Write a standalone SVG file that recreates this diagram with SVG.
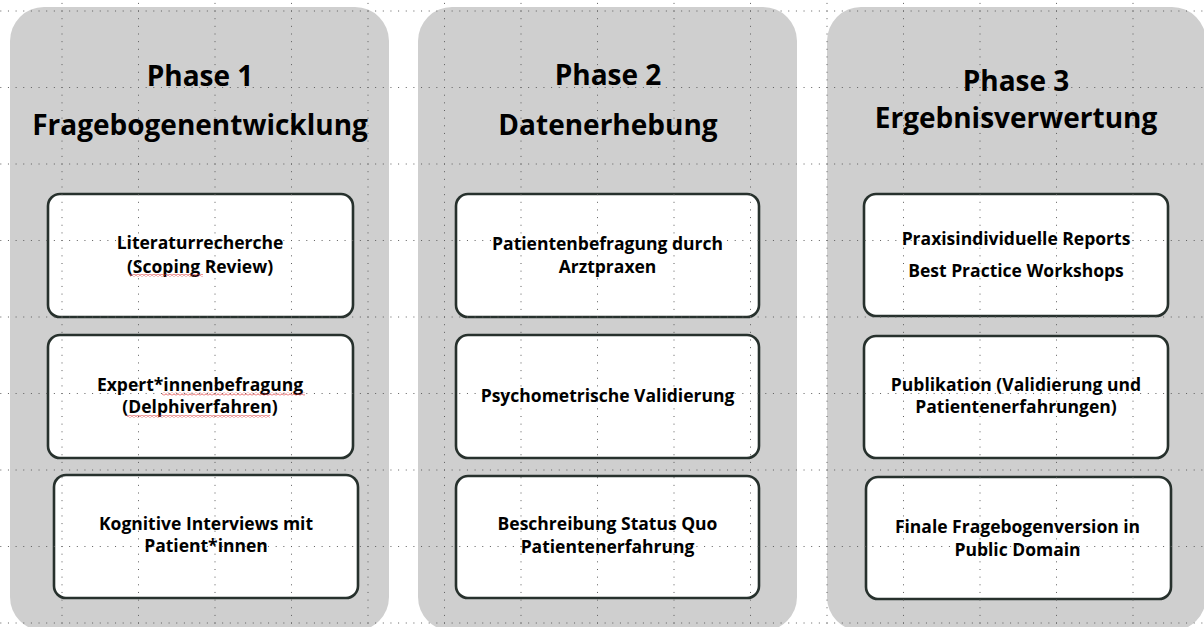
<svg xmlns="http://www.w3.org/2000/svg" width="1204" height="627" viewBox="0 0 1204 627">
<style>
.panel{fill:#cfcfcf;stroke:none}
.box{fill:#ffffff;stroke:#27312d;stroke-width:2.6}
.h{font-family:"Open Sans","Noto Sans","Liberation Sans",sans-serif;font-weight:700;font-size:28px;fill:#000;text-anchor:middle}
.t{font-family:"Open Sans","Noto Sans","Liberation Sans",sans-serif;font-weight:700;font-size:17.5px;fill:#000;text-anchor:middle}
.gv{stroke:#5e5e5e;stroke-width:1;stroke-dasharray:1 6.65}
.sq{fill:url(#squig)}
</style>
<defs>
<pattern id="squig" x="0" y="0" width="4" height="3" patternUnits="userSpaceOnUse">
<path d="M0 2.5 L2 0.7 L4 2.5" fill="none" stroke="#e03030" stroke-width="0.8"/>
</pattern>
</defs>
<rect width="1204" height="627" fill="#ffffff"/>
<g id="phase1">
<rect class="panel" x="10" y="7" width="379" height="624" rx="34"/>
</g>
<g id="phase2">
<rect class="panel" x="418" y="7" width="379" height="624" rx="34"/>
</g>
<g id="phase3">
<rect class="panel" x="827" y="7" width="379" height="624" rx="34"/>
</g>
<g id="p1b1"><rect class="box" x="48" y="194" width="305" height="123" rx="12"/></g>
<g id="p1b2"><rect class="box" x="48" y="335" width="305" height="123" rx="12"/></g>
<g id="p1b3"><rect class="box" x="54" y="475" width="304" height="123" rx="12"/></g>
<g id="p2b1"><rect class="box" x="456" y="194" width="303" height="123" rx="12"/></g>
<g id="p2b2"><rect class="box" x="456" y="335" width="303" height="123" rx="12"/></g>
<g id="p2b3"><rect class="box" x="456" y="476" width="303" height="122" rx="12"/></g>
<g id="p3b1"><rect class="box" x="864" y="194" width="304" height="122" rx="12"/></g>
<g id="p3b2"><rect class="box" x="864" y="336" width="304" height="122" rx="12"/></g>
<g id="p3b3"><rect class="box" x="866" y="477" width="305" height="122" rx="12"/></g>
<g id="grid">
<line class="gv" x1="62" y1="2.9" x2="62" y2="627"/>
<line class="gv" x1="138.5" y1="2.9" x2="138.5" y2="627"/>
<line class="gv" x1="215" y1="2.9" x2="215" y2="627"/>
<line class="gv" x1="291.5" y1="2.9" x2="291.5" y2="627"/>
<line class="gv" x1="368" y1="2.9" x2="368" y2="627"/>
<line class="gv" x1="444.5" y1="2.9" x2="444.5" y2="627"/>
<line class="gv" x1="521" y1="2.9" x2="521" y2="627"/>
<line class="gv" x1="597.5" y1="2.9" x2="597.5" y2="627"/>
<line class="gv" x1="674" y1="2.9" x2="674" y2="627"/>
<line class="gv" x1="750.5" y1="2.9" x2="750.5" y2="627"/>
<line class="gv" x1="827" y1="2.9" x2="827" y2="627"/>
<line class="gv" x1="903.5" y1="2.9" x2="903.5" y2="627"/>
<line class="gv" x1="980" y1="2.9" x2="980" y2="627"/>
<line class="gv" x1="1056.5" y1="2.9" x2="1056.5" y2="627"/>
<line class="gv" x1="1133" y1="2.9" x2="1133" y2="627"/>
<line class="gv" x1="0.3" y1="11" x2="1204" y2="11"/>
<line class="gv" x1="0.3" y1="87.5" x2="1204" y2="87.5"/>
<line class="gv" x1="0.3" y1="164" x2="1204" y2="164"/>
<line class="gv" x1="0.3" y1="240.5" x2="1204" y2="240.5"/>
<line class="gv" x1="0.3" y1="317" x2="1204" y2="317"/>
<line class="gv" x1="0.3" y1="393.5" x2="1204" y2="393.5"/>
<line class="gv" x1="0.3" y1="470" x2="1204" y2="470"/>
<line class="gv" x1="0.3" y1="546.5" x2="1204" y2="546.5"/>
<line class="gv" x1="0.3" y1="623" x2="1204" y2="623"/>
</g>
<g id="connectors"></g>
<g id="labels">
<text class="h" x="200" y="86">Phase 1</text>
<text class="h" x="200" y="135">Fragebogenentwicklung</text>
<text class="h" x="608" y="85">Phase 2</text>
<text class="h" x="608" y="135">Datenerhebung</text>
<text class="h" x="1016" y="91">Phase 3</text>
<text class="h" x="1016" y="128">Ergebnisverwertung</text>
<text class="t" x="200" y="249">Literaturrecherche</text>
<text class="t" x="200" y="272.5">(Scoping Review)</text>
<text class="t" x="200" y="391">Expert*innenbefragung</text>
<text class="t" x="200" y="413">(Delphiverfahren)</text>
<text class="t" x="206" y="530">Kognitive Interviews mit</text>
<text class="t" x="206" y="552">Patient*innen</text>
<text class="t" x="607.5" y="250">Patientenbefragung durch</text>
<text class="t" x="607.5" y="272.5">Arztpraxen</text>
<text class="t" x="607.5" y="402">Psychometrische Validierung</text>
<text class="t" x="607.5" y="530">Beschreibung Status Quo</text>
<text class="t" x="607.5" y="553">Patientenerfahrung</text>
<text class="t" x="1016" y="245">Praxisindividuelle Reports</text>
<text class="t" x="1016" y="276.5">Best Practice Workshops</text>
<text class="t" x="1016" y="390.5">Publikation (Validierung und</text>
<text class="t" x="1016" y="413">Patientenerfahrungen)</text>
<text class="t" x="1017.5" y="533">Finale Fragebogenversion in</text>
<text class="t" x="1017.5" y="556">Public Domain</text>
</g>
<g id="spellmarks">
<rect class="sq" x="130" y="274" width="73" height="3"/>
<rect class="sq" x="162" y="392.5" width="143" height="3"/>
<rect class="sq" x="127" y="415" width="143" height="3"/>
</g>
</svg>
